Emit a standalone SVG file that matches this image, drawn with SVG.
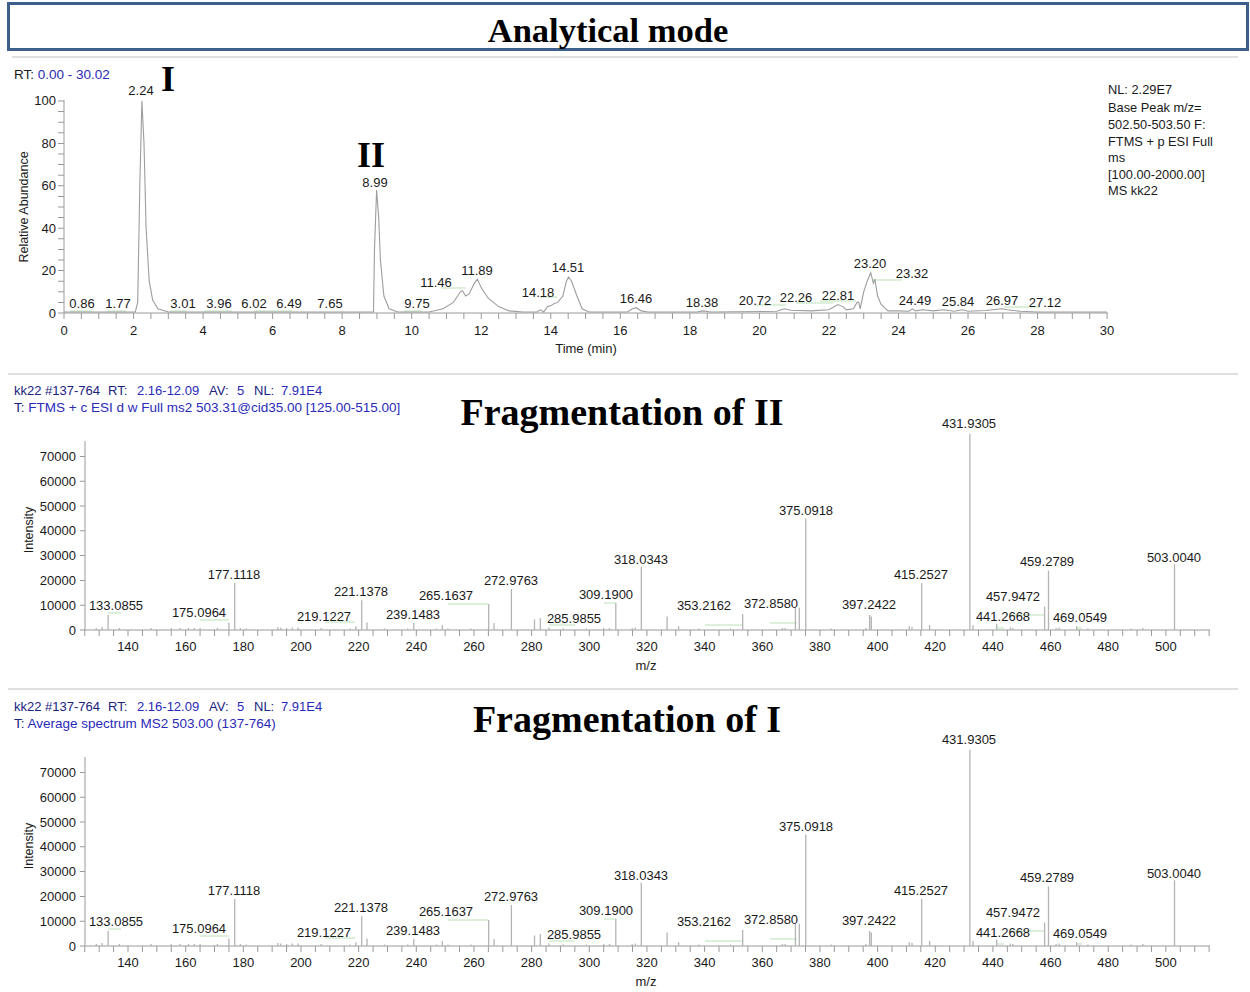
<svg xmlns="http://www.w3.org/2000/svg" width="1250" height="992" viewBox="0 0 1250 992">
<style>
text{font-family:"Liberation Sans",Arial,sans-serif;fill:#1a1a1a}
.title{font-family:"Liberation Serif","Times New Roman",serif;font-weight:bold;font-size:34.5px;text-anchor:middle;fill:#000}
.ftitle{font-family:"Liberation Serif","Times New Roman",serif;font-weight:bold;font-size:38px;text-anchor:middle;fill:#000}
.roman{font-family:"Liberation Serif","Times New Roman",serif;font-weight:bold;font-size:36px;text-anchor:middle;fill:#000}
.lbl{font-size:13px;text-anchor:middle}
.ax{font-size:13px;text-anchor:middle}
.axr{font-size:13px;text-anchor:end}
.hdr{font-size:13px;fill:#1a237e}
.hv{font-size:13px;fill:#2a2ab8}
.tl{font-size:13.5px;fill:#1a237e}
.nl{font-size:12.8px}
.axis{stroke:#9a9a9a;stroke-width:1;fill:none}
.trace{stroke:#9d9d9d;stroke-width:1.1;fill:none}
.peak{stroke:#b4b4b4;stroke-width:1.3;fill:none}
.grn{stroke:#b9e2b9;stroke-width:1.2;fill:none}
.sep{stroke:#d4d4d4;stroke-width:1.5}
</style>
<rect width="1250" height="992" fill="#fff"/>

<g id="header">
<rect x="8.5" y="3.5" width="1239" height="46" fill="#fff" stroke="#3d5f8c" stroke-width="3"/>
<text class="title" x="608" y="42">Analytical mode</text>
</g>

<g id="separators">
<line class="sep" x1="12" y1="57" x2="1238" y2="57"/>
<line class="sep" x1="8" y1="374" x2="1238" y2="374"/>
<line class="sep" x1="8" y1="689" x2="1238" y2="689"/>
</g>

<g id="chromatogram">
<text x="14" y="79" font-size="13.5"><tspan fill="#1a1a1a">RT: </tspan><tspan fill="#2a2ab8">0.00 - 30.02</tspan></text>
<text class="roman" x="168" y="91">I</text>
<text class="roman" x="371" y="167">II</text>
<line class="axis" x1="64" y1="100" x2="64" y2="313"/>
<line class="axis" x1="64" y1="313" x2="1108" y2="313"/>
<line x1="61" y1="313.5" x2="61" y2="100" stroke="#9a9a9a" stroke-width="6" stroke-dasharray="1 9.6"/>
<line x1="63.5" y1="316" x2="1108" y2="316" stroke="#9a9a9a" stroke-width="6" stroke-dasharray="1 16.385"/>
<text class="axr" x="56" y="105">100</text>
<text class="axr" x="56" y="148">80</text>
<text class="axr" x="56" y="190">60</text>
<text class="axr" x="56" y="233">40</text>
<text class="axr" x="56" y="275">20</text>
<text class="axr" x="56" y="318">0</text>
<text font-size="12.5" text-anchor="middle" transform="rotate(-90 28 207)" x="28" y="207">Relative Abundance</text>
<text class="ax" x="64" y="335">0</text>
<text class="ax" x="133.5" y="335">2</text>
<text class="ax" x="203" y="335">4</text>
<text class="ax" x="272.6" y="335">6</text>
<text class="ax" x="342.2" y="335">8</text>
<text class="ax" x="411.7" y="335">10</text>
<text class="ax" x="481.2" y="335">12</text>
<text class="ax" x="550.8" y="335">14</text>
<text class="ax" x="620.3" y="335">16</text>
<text class="ax" x="689.9" y="335">18</text>
<text class="ax" x="759.4" y="335">20</text>
<text class="ax" x="829" y="335">22</text>
<text class="ax" x="898.5" y="335">24</text>
<text class="ax" x="968" y="335">26</text>
<text class="ax" x="1037.6" y="335">28</text>
<text class="ax" x="1107" y="335">30</text>
<text class="ax" x="586" y="353">Time (min)</text>
<path class="grn" d="M70 311H92 M108 311H126 M170 311H186 M204 311H232 M254 311H292 M404 311H422 M441 288H466 M540 297H557 M755 305H786 M796 303H833 M820 301H856 M873 280H902 M1004 307H1040"/>
<path class="trace" d="M64 312L135.3 312L137.7 302.4L139.8 185.8L141.9 101L144 143.4L146.1 228.2L149.2 281.2L152.7 300.3L157.9 308.8L168.3 312L373.5 312L374.5 249.4L376.6 190L378.7 217.6L380.4 260L383.9 296L389.1 308.8L397.8 312L429.1 312L443 308.8L453.4 302.4L460.4 291.8L462.5 290.7L465.6 296L469.1 293.9L474.3 283.3L477.4 279.1L481.2 287.6L488.2 298.2L498.6 306.6L509.1 310.9L523 312L536.9 312L540.3 309.8L543.8 312L547.3 306.6L550.8 305.6L554.3 303.5L557.7 302.4L562.9 296L566.4 281.2L568.5 277L571.6 281.2L576.9 296L582.1 308.8L589 312L627.3 312L632.5 308.8L636.3 307.7L641.2 310.9L648.1 312L696.8 312L703.1 310.9L710.7 312L776.8 311.3L784.4 308.8L790.7 310.2L811.6 310.9L828.9 309.8L838 304.5L842.9 306.6L846.3 309.8L853.3 308.8L857.1 302.4L858.8 302.4L860.2 308.8L863.7 291.8L867.2 281.2L870.7 272.7L873.4 283.3L874.8 279.1L877.6 296L881.1 304.5L888 310.9L898.5 310.9L908.9 311.3L912.4 308.8L915.5 310.9L922.8 309.8L933.3 310.9L943.7 309.8L954.1 311.3L962.5 309.8L968 311.3L985.4 310.5L1001.8 308.8L1007 309.8L1020.2 311.3L1037.6 312L1107 312"/>
<text class="lbl" x="141" y="95">2.24</text>
<text class="lbl" x="375" y="187">8.99</text>
<text class="lbl" x="82" y="308">0.86</text>
<text class="lbl" x="118" y="308">1.77</text>
<text class="lbl" x="183" y="308">3.01</text>
<text class="lbl" x="219" y="308">3.96</text>
<text class="lbl" x="254" y="308">6.02</text>
<text class="lbl" x="289" y="308">6.49</text>
<text class="lbl" x="330" y="308">7.65</text>
<text class="lbl" x="417" y="308">9.75</text>
<text class="lbl" x="436" y="287">11.46</text>
<text class="lbl" x="477" y="275">11.89</text>
<text class="lbl" x="538" y="297">14.18</text>
<text class="lbl" x="568" y="272">14.51</text>
<text class="lbl" x="636" y="303">16.46</text>
<text class="lbl" x="702" y="307">18.38</text>
<text class="lbl" x="755" y="305">20.72</text>
<text class="lbl" x="796" y="302">22.26</text>
<text class="lbl" x="838" y="300">22.81</text>
<text class="lbl" x="870" y="268">23.20</text>
<text class="lbl" x="912" y="278">23.32</text>
<text class="lbl" x="915" y="305">24.49</text>
<text class="lbl" x="958" y="306">25.84</text>
<text class="lbl" x="1002" y="305">26.97</text>
<text class="lbl" x="1045" y="307">27.12</text>
<text class="nl" x="1108" y="94">NL: 2.29E7</text>
<text class="nl" x="1108" y="112">Base Peak m/z=</text>
<text class="nl" x="1108" y="129">502.50-503.50 F:</text>
<text class="nl" x="1108" y="146">FTMS + p ESI Full</text>
<text class="nl" x="1108" y="162">ms</text>
<text class="nl" x="1108" y="179">[100.00-2000.00]</text>
<text class="nl" x="1108" y="195">MS kk22</text>
</g>

<g id="spectrum-II">
<text class="hdr" x="14" y="395">kk22 #137-764</text>
<text class="hdr" x="108" y="395">RT:</text><text class="hv" x="137" y="395">2.16-12.09</text>
<text class="hdr" x="209" y="395">AV:</text><text class="hv" x="237" y="395">5</text>
<text class="hdr" x="254" y="395">NL:</text><text class="hv" x="281" y="395">7.91E4</text>
<text class="tl" x="14" y="412">T: <tspan fill="#2a2ab8">FTMS + c ESI d w Full ms2 503.31@cid35.00 [125.00-515.00]</tspan></text>
<text class="ftitle" x="622" y="425">Fragmentation of II</text>
<g id="plot-II">
<line class="axis" x1="85" y1="441" x2="85" y2="630"/>
<line class="axis" x1="85" y1="630" x2="1210" y2="630"/>
<line x1="82.5" y1="630.5" x2="82.5" y2="455" stroke="#9a9a9a" stroke-width="5" stroke-dasharray="1 23.8"/>
<line x1="84.26" y1="633" x2="1210" y2="633" stroke="#9a9a9a" stroke-width="6" stroke-dasharray="1 13.415"/>
<text class="axr" x="76" y="461">70000</text>
<text class="axr" x="76" y="486">60000</text>
<text class="axr" x="76" y="511">50000</text>
<text class="axr" x="76" y="535">40000</text>
<text class="axr" x="76" y="560">30000</text>
<text class="axr" x="76" y="585">20000</text>
<text class="axr" x="76" y="610">10000</text>
<text class="axr" x="76" y="635">0</text>
<text font-size="12.5" text-anchor="middle" transform="rotate(-90 33 530)" x="33" y="530">Intensity</text>
<text class="ax" x="128" y="651">140</text>
<text class="ax" x="185.7" y="651">160</text>
<text class="ax" x="243.3" y="651">180</text>
<text class="ax" x="301" y="651">200</text>
<text class="ax" x="358.6" y="651">220</text>
<text class="ax" x="416.3" y="651">240</text>
<text class="ax" x="474" y="651">260</text>
<text class="ax" x="531.6" y="651">280</text>
<text class="ax" x="589.3" y="651">300</text>
<text class="ax" x="646.9" y="651">320</text>
<text class="ax" x="704.6" y="651">340</text>
<text class="ax" x="762.3" y="651">360</text>
<text class="ax" x="819.9" y="651">380</text>
<text class="ax" x="877.6" y="651">400</text>
<text class="ax" x="935.2" y="651">420</text>
<text class="ax" x="992.9" y="651">440</text>
<text class="ax" x="1050.6" y="651">460</text>
<text class="ax" x="1108.2" y="651">480</text>
<text class="ax" x="1165.9" y="651">500</text>
<text class="ax" x="646" y="670">m/z</text>
<path class="grn" d="M108 613H121 M200 620H229 M325 622H355 M448 604H488 M549 625H575 M604 603H615 M705 625H742 M770 623H797 M996 628H1004 M1010 615H1044 M1076 628H1082"/>
<path class="peak" d="M96.3 630V628M102.1 630V627M119.4 630V628M151.1 630V628M171.2 630V628M179.9 630V628M188.5 630V628M194.3 630V628M200.1 630V628M217.4 630V628M240.4 630V628M246.2 630V628.5M277.9 630V627M280.8 630V627.5M286.6 630V628M292.3 630V627.5M298.1 630V627.5M321.2 630V628M350 630V628.5M384.6 630V628.5M407.7 630V628.5M436.5 630V628.5M448 630V628.5M471.1 630V628.5M563.3 630V628.5M586.4 630V628.5M603.7 630V628M609.5 630V628M632.2 630V628M635.4 630V627.5M698.8 630V628.5M730.5 630V628.5M782.4 630V628M785.2 630V628M831.3 630V628.5M865.9 630V628M912 630V627M1012.9 630V628M1056.1 630V628M1087.8 630V628.5M1131.1 630V628.5M1142.8 630V628
M108.1 630V615.1M228.9 630V622.6M234.7 630V582.9M355.9 630V626.3M361.7 630V600.2M367 630V622.6M413.8 630V623M442.3 630V625M488.7 630V604M494 630V623M511.4 630V589.1M534.5 630V619.6M540.3 630V618.1M548.9 630V627.5M615.8 630V602.7M641.3 630V566.8M667.1 630V616.4M678.6 630V626.3M742.7 630V613.9M795.4 630V607.7M799.3 630V607.7M805.8 630V518.4M869.6 630V615.1M871.3 630V616.4M909.3 630V626.3M921.7 630V582.9M929.6 630V625M969.9 630V433.8M973 630V625M996.7 630V623.8M1010.4 630V627.5M1044.6 630V606.4M1048.5 630V570.5M1059.2 630V627.5M1076.6 630V626.3M1174.5 630V564.3"/>
<text class="lbl" x="116" y="610">133.0855</text>
<text class="lbl" x="199" y="617">175.0964</text>
<text class="lbl" x="234" y="579">177.1118</text>
<text class="lbl" x="324" y="621">219.1227</text>
<text class="lbl" x="361" y="596">221.1378</text>
<text class="lbl" x="413" y="619">239.1483</text>
<text class="lbl" x="446" y="600">265.1637</text>
<text class="lbl" x="511" y="585">272.9763</text>
<text class="lbl" x="574" y="623">285.9855</text>
<text class="lbl" x="606" y="599">309.1900</text>
<text class="lbl" x="641" y="564">318.0343</text>
<text class="lbl" x="704" y="610">353.2162</text>
<text class="lbl" x="771" y="608">372.8580</text>
<text class="lbl" x="806" y="515">375.0918</text>
<text class="lbl" x="869" y="609">397.2422</text>
<text class="lbl" x="921" y="579">415.2527</text>
<text class="lbl" x="969" y="428">431.9305</text>
<text class="lbl" x="1003" y="621">441.2668</text>
<text class="lbl" x="1013" y="601">457.9472</text>
<text class="lbl" x="1047" y="566">459.2789</text>
<text class="lbl" x="1080" y="622">469.0549</text>
<text class="lbl" x="1174" y="562">503.0040</text>
</g>
</g>

<g id="spectrum-I">
<text class="hdr" x="14" y="711">kk22 #137-764</text>
<text class="hdr" x="108" y="711">RT:</text><text class="hv" x="137" y="711">2.16-12.09</text>
<text class="hdr" x="209" y="711">AV:</text><text class="hv" x="237" y="711">5</text>
<text class="hdr" x="254" y="711">NL:</text><text class="hv" x="281" y="711">7.91E4</text>
<text class="tl" x="14" y="728">T: <tspan fill="#2a2ab8">Average spectrum MS2 503.00 (137-764)</tspan></text>
<text class="ftitle" x="627" y="732">Fragmentation of I</text>
<g id="plot-I" transform="translate(0 316)">
<line class="axis" x1="85" y1="441" x2="85" y2="630"/>
<line class="axis" x1="85" y1="630" x2="1210" y2="630"/>
<line x1="82.5" y1="630.5" x2="82.5" y2="455" stroke="#9a9a9a" stroke-width="5" stroke-dasharray="1 23.8"/>
<line x1="84.26" y1="633" x2="1210" y2="633" stroke="#9a9a9a" stroke-width="6" stroke-dasharray="1 13.415"/>
<text class="axr" x="76" y="461">70000</text>
<text class="axr" x="76" y="486">60000</text>
<text class="axr" x="76" y="511">50000</text>
<text class="axr" x="76" y="535">40000</text>
<text class="axr" x="76" y="560">30000</text>
<text class="axr" x="76" y="585">20000</text>
<text class="axr" x="76" y="610">10000</text>
<text class="axr" x="76" y="635">0</text>
<text font-size="12.5" text-anchor="middle" transform="rotate(-90 33 530)" x="33" y="530">Intensity</text>
<text class="ax" x="128" y="651">140</text>
<text class="ax" x="185.7" y="651">160</text>
<text class="ax" x="243.3" y="651">180</text>
<text class="ax" x="301" y="651">200</text>
<text class="ax" x="358.6" y="651">220</text>
<text class="ax" x="416.3" y="651">240</text>
<text class="ax" x="474" y="651">260</text>
<text class="ax" x="531.6" y="651">280</text>
<text class="ax" x="589.3" y="651">300</text>
<text class="ax" x="646.9" y="651">320</text>
<text class="ax" x="704.6" y="651">340</text>
<text class="ax" x="762.3" y="651">360</text>
<text class="ax" x="819.9" y="651">380</text>
<text class="ax" x="877.6" y="651">400</text>
<text class="ax" x="935.2" y="651">420</text>
<text class="ax" x="992.9" y="651">440</text>
<text class="ax" x="1050.6" y="651">460</text>
<text class="ax" x="1108.2" y="651">480</text>
<text class="ax" x="1165.9" y="651">500</text>
<text class="ax" x="646" y="670">m/z</text>
<path class="grn" d="M108 613H121 M200 620H229 M325 622H355 M448 604H488 M549 625H575 M604 603H615 M705 625H742 M770 623H797 M996 628H1004 M1010 615H1044 M1076 628H1082"/>
<path class="peak" d="M96.3 630V628M102.1 630V627M119.4 630V628M151.1 630V628M171.2 630V628M179.9 630V628M188.5 630V628M194.3 630V628M200.1 630V628M217.4 630V628M240.4 630V628M246.2 630V628.5M277.9 630V627M280.8 630V627.5M286.6 630V628M292.3 630V627.5M298.1 630V627.5M321.2 630V628M350 630V628.5M384.6 630V628.5M407.7 630V628.5M436.5 630V628.5M448 630V628.5M471.1 630V628.5M563.3 630V628.5M586.4 630V628.5M603.7 630V628M609.5 630V628M632.2 630V628M635.4 630V627.5M698.8 630V628.5M730.5 630V628.5M782.4 630V628M785.2 630V628M831.3 630V628.5M865.9 630V628M912 630V627M1012.9 630V628M1056.1 630V628M1087.8 630V628.5M1131.1 630V628.5M1142.8 630V628
M108.1 630V615.1M228.9 630V622.6M234.7 630V582.9M355.9 630V626.3M361.7 630V600.2M367 630V622.6M413.8 630V623M442.3 630V625M488.7 630V604M494 630V623M511.4 630V589.1M534.5 630V619.6M540.3 630V618.1M548.9 630V627.5M615.8 630V602.7M641.3 630V566.8M667.1 630V616.4M678.6 630V626.3M742.7 630V613.9M795.4 630V607.7M799.3 630V607.7M805.8 630V518.4M869.6 630V615.1M871.3 630V616.4M909.3 630V626.3M921.7 630V582.9M929.6 630V625M969.9 630V433.8M973 630V625M996.7 630V623.8M1010.4 630V627.5M1044.6 630V606.4M1048.5 630V570.5M1059.2 630V627.5M1076.6 630V626.3M1174.5 630V564.3"/>
<text class="lbl" x="116" y="610">133.0855</text>
<text class="lbl" x="199" y="617">175.0964</text>
<text class="lbl" x="234" y="579">177.1118</text>
<text class="lbl" x="324" y="621">219.1227</text>
<text class="lbl" x="361" y="596">221.1378</text>
<text class="lbl" x="413" y="619">239.1483</text>
<text class="lbl" x="446" y="600">265.1637</text>
<text class="lbl" x="511" y="585">272.9763</text>
<text class="lbl" x="574" y="623">285.9855</text>
<text class="lbl" x="606" y="599">309.1900</text>
<text class="lbl" x="641" y="564">318.0343</text>
<text class="lbl" x="704" y="610">353.2162</text>
<text class="lbl" x="771" y="608">372.8580</text>
<text class="lbl" x="806" y="515">375.0918</text>
<text class="lbl" x="869" y="609">397.2422</text>
<text class="lbl" x="921" y="579">415.2527</text>
<text class="lbl" x="969" y="428">431.9305</text>
<text class="lbl" x="1003" y="621">441.2668</text>
<text class="lbl" x="1013" y="601">457.9472</text>
<text class="lbl" x="1047" y="566">459.2789</text>
<text class="lbl" x="1080" y="622">469.0549</text>
<text class="lbl" x="1174" y="562">503.0040</text>
</g>
</g>
</svg>
